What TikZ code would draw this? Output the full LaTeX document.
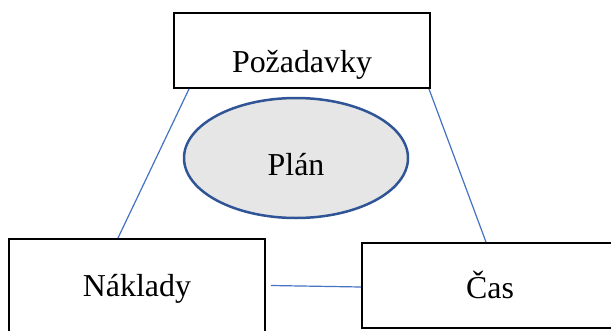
\documentclass[tikz,border=0pt]{standalone}
\usepackage{fontspec}
\setmainfont{Liberation Serif}
\usetikzlibrary{shapes.geometric,calc}
\definecolor{linkblue}{HTML}{4472C4}
\definecolor{ellborder}{HTML}{2F5597}
\definecolor{ellfill}{HTML}{E7E6E6}
\begin{document}
\begin{tikzpicture}[x=1pt,y=-1pt,
  boxnode/.style={draw=black,line width=2pt,rectangle,inner sep=0pt,fill=white},
  txt/.style={anchor=base,inner sep=0pt,font=\fontsize{31.9}{36}\selectfont},
  link/.style={draw=linkblue,line width=1.2pt}]
\useasboundingbox (0,0) rectangle (611,330);
\clip (0,0) rectangle (611,330);
\node[boxnode,minimum width=256pt,minimum height=75pt] (req) at (302,50.5) {};
\node[txt] (reqt) at (302,72) {Požadavky};
\node[draw=ellborder,fill=ellfill,line width=2.5pt,ellipse,inner sep=0pt,minimum width=224pt,minimum height=120pt] (plan) at (296,158) {};
\node[txt] (plant) at (296,175) {Plán};
\node[boxnode,minimum width=256pt,minimum height=101pt] (cost) at (137,289.5) {};
\node[txt] (costt) at (137,296) {Náklady};
\node[boxnode,minimum width=256pt,minimum height=85pt] (time) at (490,285.5) {};
\node[txt] (timet) at (490,298) {Čas};
\draw[link] ($(req.south west)+(16,0)$) -- ($(cost.north west)+(110,0)$);
\draw[link] ($(req.south east)+(-2,0)$) -- ($(time.north west)+(125,0)$);
\draw[link] ($(cost.east)+(5,-4)$) -- ($(time.west)+(0,1.5)$);
\end{tikzpicture}
\end{document}
